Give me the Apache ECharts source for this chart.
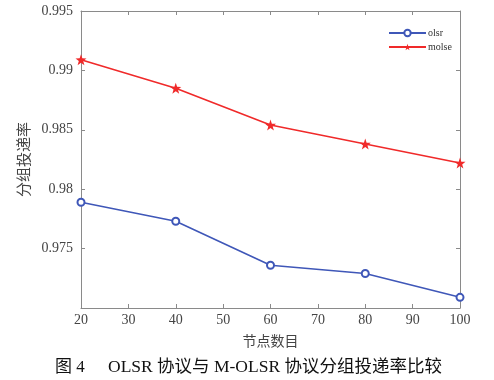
<!DOCTYPE html>
<html>
<head>
<meta charset="utf-8">
<script src="https://cdn.jsdelivr.net/npm/echarts@6/dist/echarts.min.js"></script>
<style>html,body{margin:0;padding:0;background:#fff;}#c{width:494px;height:380px;}</style>
</head>
<body>
<div id="c"></div>
<script>
const nodes = [20, 40, 60, 80, 100];
const olsr = [0.9789, 0.9773, 0.9736, 0.9729, 0.9709];
const molse = [0.9909, 0.9885, 0.9854, 0.9838, 0.9822];
const seriesNames = ['olsr', 'molse'];
const xTitle = '节点数目';
const yTitle = '分组投递率';
const captionNo = '图 4';
const captionText = 'OLSR 协议与 M-OLSR 协议分组投递率比较';

const serif = '"Liberation Serif","Times New Roman",serif';
const cjk = '"Noto Sans CJK SC","Liberation Serif",serif';
const mixed = '"Liberation Serif","Noto Sans CJK SC",serif';
const axisColor = '#8a8a8a';
const star = 'path://M0,-10 L2.35,-3.24 9.51,-3.09 3.8,1.24 5.88,8.09 0,4 -5.88,8.09 -3.8,1.24 -9.51,-3.09 -2.35,-3.24Z';

const chart = echarts.init(document.getElementById('c'));
const baseAxis = {
  axisLine: {show: true, onZero: false, lineStyle: {color: axisColor, width: 1}},
  axisTick: {show: true, inside: true, length: 4, lineStyle: {color: axisColor}},
  splitLine: {show: false}
};
chart.setOption({
  animation: false,
  grid: {left: 81, right: 34, top: 11, bottom: 72},
  legend: {
    orient: 'vertical', left: 383, top: 23, itemWidth: 37, itemHeight: 8, itemGap: 4,
    textStyle: {fontFamily: serif, fontSize: 10, color: '#333', padding: [0,0,0,-3]},
    data: seriesNames
  },
  xAxis: [
    Object.assign({}, baseAxis, {
      type: 'value', min: 20, max: 100, interval: 10, position: 'bottom',
      axisLabel: {fontFamily: serif, fontSize: 14, color: '#444', margin: 5},
      name: xTitle, nameLocation: 'middle', nameGap: 26,
      nameTextStyle: {fontFamily: cjk, fontSize: 14, color: '#444'}
    }),
    Object.assign({}, baseAxis, {
      type: 'value', min: 20, max: 100, interval: 10, position: 'top',
      axisLabel: {show: false}
    })
  ],
  yAxis: [
    Object.assign({}, baseAxis, {
      type: 'value', min: 0.97, max: 0.995, interval: 0.005, position: 'left',
      axisLabel: {fontFamily: serif, fontSize: 14, color: '#444', margin: 8,
        formatter: v => v < 0.9705 ? '' : String(+v.toFixed(3))},
      name: yTitle, nameLocation: 'middle', nameGap: 46, nameRotate: 90,
      nameTextStyle: {fontFamily: cjk, fontSize: 15, color: '#444'}
    }),
    Object.assign({}, baseAxis, {
      type: 'value', min: 0.97, max: 0.995, interval: 0.005, position: 'right',
      axisLabel: {show: false}
    })
  ],
  series: [
    {
      name: seriesNames[0], type: 'line', data: nodes.map((x, i) => [x, olsr[i]]),
      symbol: 'emptyCircle', symbolSize: 7, color: '#3f57b8',
      lineStyle: {width: 1.6, color: '#3f57b8'},
      itemStyle: {color: '#3f57b8', borderWidth: 1.5}
    },
    {
      name: seriesNames[1], type: 'line', data: nodes.map((x, i) => [x, molse[i]]),
      symbol: star, symbolSize: 11, color: '#f02a2a',
      lineStyle: {width: 1.6, color: '#f02a2a'},
      itemStyle: {color: '#f02a2a'}
    }
  ],
  graphic: [
    {type: 'text', left: 55, top: 359, style: {text: captionNo, font: '17px ' + mixed, fill: '#111'}},
    {type: 'text', left: 108, top: 359, style: {text: captionText, font: '17.5px ' + mixed, fill: '#111'}}
  ]
});
</script>
</body>
</html>
